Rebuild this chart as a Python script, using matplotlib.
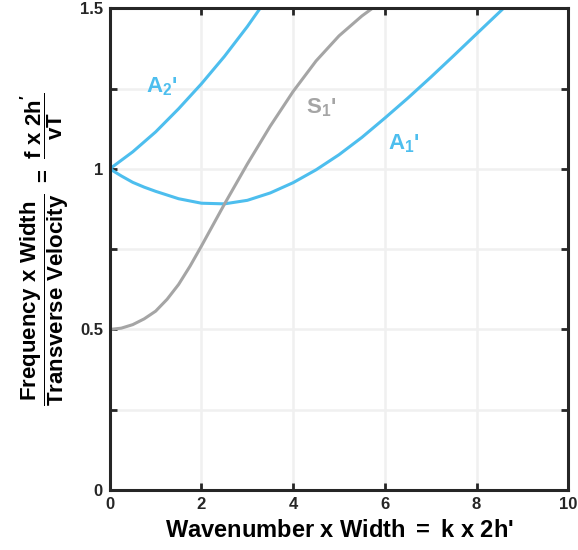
import numpy as np
import matplotlib.pyplot as plt

# values
k_a2 = [0.0, 0.5, 1.0, 1.5, 2.0, 2.5, 3.0, 3.28]
f_a2 = [1.0, 1.053, 1.115, 1.187, 1.265, 1.35, 1.443, 1.5]

k_a1 = [0.0, 0.25, 0.5, 0.75, 1.0, 1.5, 2.0, 2.5, 3.0, 3.5, 4.0, 4.5, 5.0, 5.5, 6.0,
        6.5, 7.0, 7.5, 8.0, 8.59]
f_a1 = [1.0, 0.978, 0.958, 0.943, 0.93, 0.907, 0.893, 0.891, 0.902, 0.925, 0.957, 0.997, 1.044,
        1.098, 1.158, 1.22, 1.285, 1.352, 1.42, 1.5]

k_s1 = [0.0, 0.25, 0.5, 0.75, 1.0, 1.25, 1.5, 1.75, 2.0, 2.5, 3.0, 3.5, 4.0, 4.5, 5.0,
        5.5, 5.73]
f_s1 = [0.5, 0.504, 0.515, 0.533, 0.557, 0.594, 0.64, 0.697, 0.76, 0.89, 1.015, 1.133, 1.241,
        1.336, 1.414, 1.476, 1.5]

xticks = [0, 2, 4, 6, 8, 10]
yticks = [0, 0.25, 0.5, 0.75, 1.0, 1.25, 1.5]
ylabels = ['0', '', '0.5', '', '1', '', '1.5']

blue = '#4DBEEE'
gray = '#A5A5A5'

plt.rcParams['font.family'] = 'Liberation Sans'
plt.rcParams['font.weight'] = 'bold'
plt.rcParams['mathtext.fontset'] = 'custom'
plt.rcParams['mathtext.rm'] = 'Liberation Sans:bold'
plt.rcParams['mathtext.it'] = 'Liberation Sans:bold'
plt.rcParams['mathtext.bf'] = 'Liberation Sans:bold'

fig = plt.figure(figsize=(5.78, 5.5), dpi=100)
ax = fig.add_axes([0.190, 0.109, 0.793, 0.876])

ax.plot(k_a2, f_a2, color=blue, lw=2.2, solid_joinstyle='round')
ax.plot(k_a1, f_a1, color=blue, lw=2.2, solid_joinstyle='round')
ax.plot(k_s1, f_s1, color=gray, lw=2.2, solid_joinstyle='round')

ax.text(0.78, 1.239, "A$_2$'", color=blue, fontsize=16, fontweight='bold')
ax.text(4.29, 1.173, "S$_1$'", color=gray, fontsize=16, fontweight='bold')
ax.text(6.08, 1.062, "A$_1$'", color=blue, fontsize=16, fontweight='bold')

ax.set_xlim(0, 10)
ax.set_ylim(0, 1.5)
ax.set_xticks(xticks)
ax.set_yticks(yticks)
ax.set_yticklabels(ylabels)
ax.grid(True, color='#F0F0F0', lw=1.8)
ax.set_axisbelow(True)
ax.tick_params(direction='in', top=True, right=True, length=5, width=2,
               labelsize=12, colors='#262626', pad=5)
for s in ax.spines.values():
    s.set_linewidth(2.2)
    s.set_color('#262626')

ax.set_xlabel("Wavenumber x Width $=$ k x 2h'", fontsize=17, fontweight='bold', labelpad=5)
ax.set_ylabel(r"$\dfrac{\mathrm{Frequency\ x\ Width}}{\mathrm{Transverse\ Velocity}}\ =\ \dfrac{\mathrm{f\ x\ 2h'}}{\mathrm{vT}}$",
              fontsize=16, labelpad=6)

fig.savefig('out.png', dpi=100)
